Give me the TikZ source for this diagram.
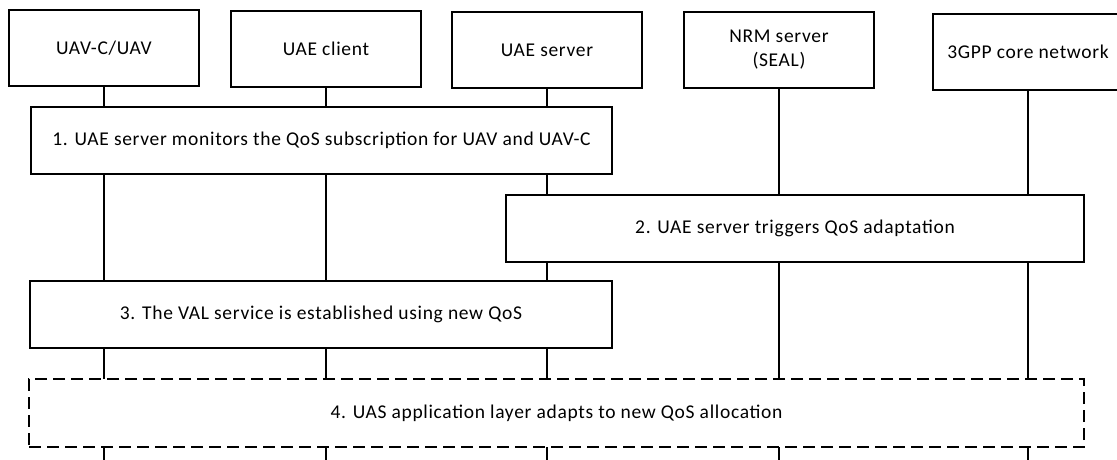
\documentclass[tikz,border=0pt]{standalone}
\usepackage{fontspec}
\setmainfont{Carlito}[LetterSpace=3.5]
\begin{document}
\begin{tikzpicture}[x=1pt,y=-1pt,
  every node/.style={font=\fontsize{19.5}{24}\selectfont},
  entity/.style={draw,line width=1.1pt,fill=white,minimum width=190pt,minimum height=76pt,inner sep=0pt,align=center},
  stepbox/.style={draw,line width=1.1pt,fill=white,minimum height=67pt,inner sep=0pt,align=center},
  optbox/.style={stepbox,dash pattern=on 12pt off 6pt,minimum height=68pt},
  life/.style={line width=1.1pt}]
\useasboundingbox (0,0) rectangle (1117,459);
\node[entity] (ua) at (104,48) {UAV-C/UAV};
\node[entity] (uc) at (326,49) {UAE client};
\node[entity] (us) at (547,50) {UAE server};
\node[entity] (nrm) at (779,50) {NRM server\\(SEAL)};
\node[entity] (cn) at (1028,52) {3GPP core network};
\coordinate (bot) at (0,462);
\foreach \n in {ua,uc,us,nrm,cn}{\draw[life] (\n.south) -- (\n.south |- bot);}
\node[stepbox,minimum width=581pt] (s1) at (321.5,140.5) {1. UAE server monitors the QoS subscription for UAV and UAV-C};
\node[stepbox,minimum width=578pt] (s2) at (795,228.5) {2. UAE server triggers QoS adaptation};
\node[stepbox,minimum width=582pt] (s3) at (321,314.5) {3. The VAL service is established using new QoS};
\node[optbox,minimum width=1055pt] (s4) at (556.5,413) {4. UAS application layer adapts to new QoS allocation};
\end{tikzpicture}
\end{document}
